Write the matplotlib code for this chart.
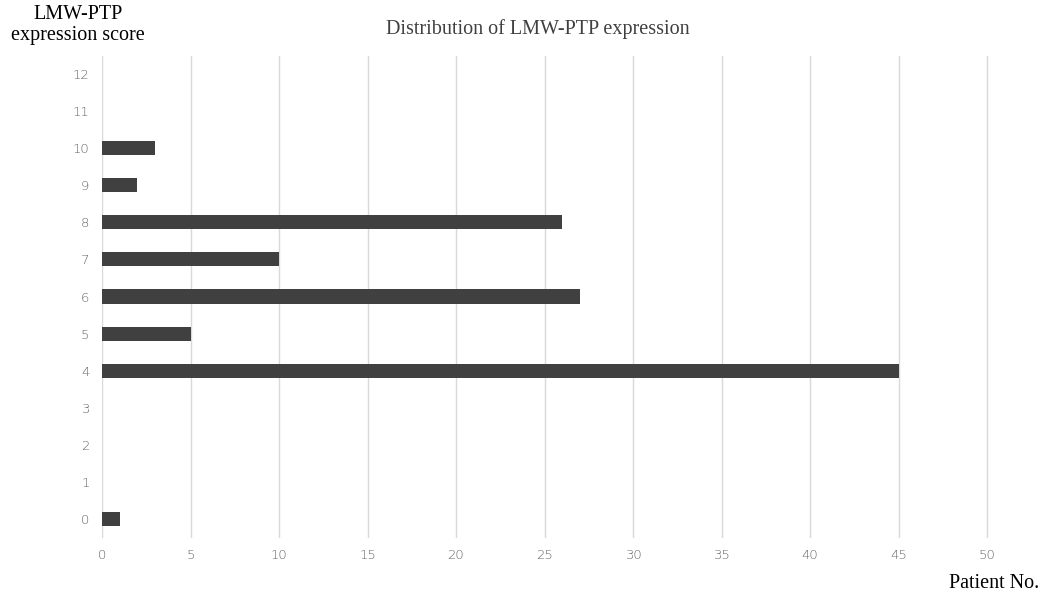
import matplotlib.pyplot as plt

# LMW-PTP expression score vs number of patients
scores = list(range(13))
patients = [1, 0, 0, 0, 45, 5, 27, 10, 26, 2, 3, 0, 0]
xticks = [0, 5, 10, 15, 20, 25, 30, 35, 40, 45, 50]

fig = plt.figure(figsize=(10.44, 5.98), dpi=100)
ax = fig.add_axes([102 / 1044, 1 - 537.5 / 598, 920 / 1044, 482 / 598])

ax.barh(scores, patients, height=0.38, color='#404040', zorder=3)

ax.set_xlim(0, 50 * 920 / 885)
ax.set_ylim(-0.5, 12.5)
ax.set_yticks(scores)
ax.set_xticks(xticks)
ax.tick_params(axis='both', length=0, labelsize=9.5, labelcolor='#666666')
ax.tick_params(axis='y', pad=9)
ax.tick_params(axis='x', pad=8)
for lbl in ax.get_xticklabels() + ax.get_yticklabels():
    lbl.set_fontweight('light')

ax.grid(axis='x', color='#d9d9d9', linewidth=1, zorder=0)
for s in ax.spines.values():
    s.set_visible(False)

serif = 'Liberation Serif'
fig.text(538 / 1044, 1 - 29 / 598, 'Distribution of LMW-PTP expression',
         ha='center', va='center', fontsize=14.5, family=serif, color='#404040')
fig.text(78 / 1044, 1 - 25 / 598, 'LMW-PTP\nexpression score', ha='center',
         va='center', fontsize=14.5, family=serif, linespacing=1.1)
fig.text(994 / 1044, 1 - 584 / 598, 'Patient No.', ha='center', va='center',
         fontsize=14.5, family=serif)

fig.savefig('out.png', dpi=100)
